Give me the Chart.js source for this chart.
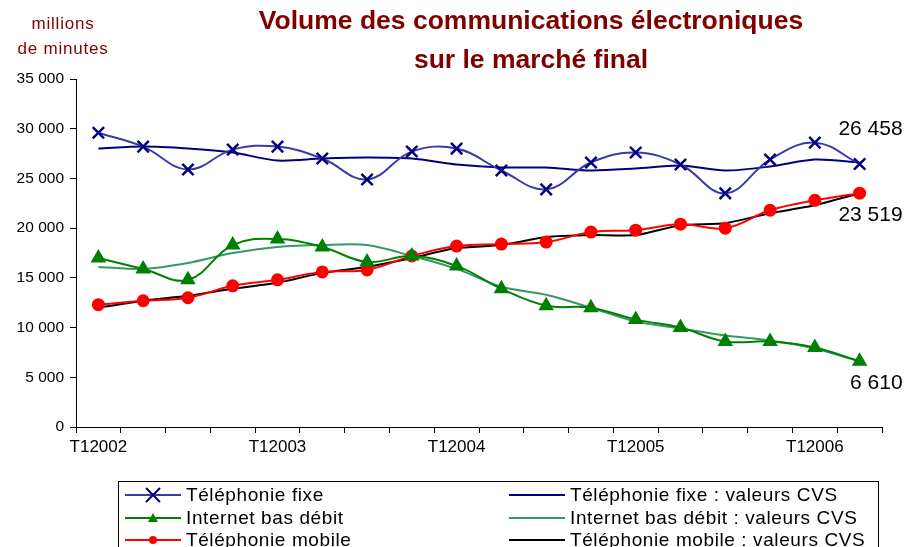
<!DOCTYPE html>
<html>
<head>
<meta charset="utf-8">
<script src="https://cdn.jsdelivr.net/npm/chart.js@4"></script>
<style>
  html, body { margin: 0; padding: 0; background: #fff; overflow: hidden; }
  #wrap { position: relative; width: 906px; height: 547px; font-family: "Liberation Sans", Arial, sans-serif; }
  #chart { position: absolute; left: 0; top: 0; }
  .title { position: absolute; left: 0; width: 1062px; text-align: center; color: #800000;
           font-weight: bold; font-size: 26.5px; white-space: nowrap; }
  .unit { position: absolute; left: 0; width: 126px; text-align: center; color: #800000;
          font-size: 17px; letter-spacing: 0.8px; }
  #legend { position: absolute; left: 118px; top: 481px; width: 761px; height: 80px;
            border: 1px solid #000; box-sizing: border-box; }
  .item { position: absolute; display: flex; align-items: center; height: 22px;
          font-size: 19px; letter-spacing: 0.6px; white-space: nowrap; }
  .item svg { margin-right: 5px; }
</style>
</head>
<body>
<div id="wrap">
  <canvas id="chart" width="906" height="547"></canvas>
  <div class="title" style="top:5px">Volume des communications électroniques</div>
  <div class="title" style="top:44px">sur le marché final</div>
  <div class="unit" style="top:14px">millions</div>
  <div class="unit" style="top:39px">de minutes</div>
  <div id="legend"></div>
</div>
<script>
// Quarters T1 2002 -> T2 2006
const quarters = [
  "T12002", "T22002", "T32002", "T42002",
  "T12003", "T22003", "T32003", "T42003",
  "T12004", "T22004", "T32004", "T42004",
  "T12005", "T22005", "T32005", "T42005",
  "T12006", "T22006",
];

// millions de minutes
const fixe = [29600, 28200, 25900, 27900, 28200, 27000, 24900, 27700, 28000,
  25800, 23900, 26600, 27600, 26400, 23500, 26900, 28600, 26458];
const fixeCVS = [28000, 28200, 28000, 27600, 26800, 27000, 27100, 27000, 26400,
  26100, 26100, 25800, 26000, 26300, 25800, 26200, 26900, 26600];
const internet = [17000, 15900, 14800, 18300, 18900, 18100, 16600, 17200, 16200,
  13900, 12200, 12000, 10800, 10000, 8600, 8600, 8000, 6610];
const internetCVS = [16100, 15900, 16500, 17500, 18100, 18300, 18300, 17200, 15900,
  14100, 13300, 12000, 10600, 9900, 9200, 8700, 7900, 6600];
const mobile = [12300, 12700, 13000, 14200, 14800, 15600, 15800, 17200, 18200,
  18400, 18600, 19600, 19800, 20400, 20000, 21800, 22800, 23519];
const mobileCVS = [12000, 12700, 13200, 13900, 14500, 15500, 16100, 17000, 18000,
  18300, 19100, 19300, 19300, 20300, 20500, 21500, 22300, 23500];

const yTicks = [0, 5000, 10000, 15000, 20000, 25000, 30000, 35000];

function fmt(v) {
  return String(v).replace(/\B(?=(\d{3})+(?!\d))/g, " ");
}

const datasets = [
  { label: "Téléphonie fixe", data: fixe, borderColor: "#3b3ba8", pointStyle: "crossRot",
    pointRadius: 8, pointBorderColor: "#000080", pointBorderWidth: 2.5, tension: 0.4, endLabel: { dy: -35 } },
  { label: "Internet bas débit", data: internet, borderColor: "#008000", pointStyle: "triangle",
    pointRadius: 7, pointBackgroundColor: "#008000", pointBorderColor: "#008000", tension: 0.4, endLabel: { dy: 22 } },
  { label: "Téléphonie mobile", data: mobile, borderColor: "#ff0000", pointStyle: "circle",
    pointRadius: 5.5, pointBackgroundColor: "#ff0000", pointBorderColor: "#ff0000", tension: 0.4, endLabel: { dy: 22 } },
  { label: "Téléphonie fixe : valeurs CVS", data: fixeCVS, borderColor: "#000080", pointRadius: 0, tension: 0.3 },
  { label: "Internet bas débit : valeurs CVS", data: internetCVS, borderColor: "#339966", pointRadius: 0, tension: 0.3 },
  { label: "Téléphonie mobile : valeurs CVS", data: mobileCVS, borderColor: "#000000", pointRadius: 0, tension: 0.2 },
];
datasets.forEach((d) => { d.borderWidth = 2; d.fill = false; });

// value labels at the last quarter
const endLabels = {
  id: "endLabels",
  afterDatasetsDraw(chart) {
    const ctx = chart.ctx;
    ctx.save();
    ctx.font = "21px 'Liberation Sans', Arial, sans-serif";
    ctx.fillStyle = "#000";
    ctx.textAlign = "right";
    ctx.textBaseline = "middle";
    chart.data.datasets.forEach((ds, i) => {
      if (!ds.endLabel) return;
      const pts = chart.getDatasetMeta(i).data;
      const p = pts[pts.length - 1];
      ctx.fillText(fmt(ds.data[ds.data.length - 1]), p.x + 43, p.y + ds.endLabel.dy);
    });
    ctx.restore();
  },
};

new Chart(document.getElementById("chart"), {
  type: "line",
  data: { labels: quarters, datasets: datasets },
  options: {
    responsive: false,
    animation: false,
    layout: { padding: { top: 79, right: 24, bottom: 80, left: 0 } },
    scales: {
      x: {
        offset: true,
        grid: { offset: true, drawOnChartArea: false, tickLength: 6, color: "#000" },
        border: { color: "#000", width: 1 },
        ticks: {
          autoSkip: false, maxRotation: 0, padding: 4, color: "#000",
          font: { size: 17, family: "'Liberation Sans', Arial, sans-serif" },
          callback: (v, i) => (i % 4 === 0 ? quarters[i] : ""),
        },
        afterFit: (s) => { s.height = 40; },
      },
      y: {
        min: 0, max: 35000,
        afterBuildTicks: (s) => { s.ticks = yTicks.map((v) => ({ value: v })); },
        grid: { drawOnChartArea: false, tickLength: 6, color: "#000" },
        border: { color: "#000", width: 1 },
        ticks: {
          padding: 6, color: "#000",
          font: { size: 15.5, family: "'Liberation Sans', Arial, sans-serif" },
          callback: (v) => fmt(v),
        },
        afterFit: (s) => { s.width = 76; },
      },
    },
    plugins: {
      legend: { display: false },
      tooltip: { enabled: false },
    },
  },
  plugins: [endLabels],
});

// Legend: two columns, three rows
const legend = document.getElementById("legend");
datasets.forEach((d, i) => {
  const col = i < 3 ? 0 : 1;
  const row = i % 3;
  const item = document.createElement("div");
  item.className = "item";
  item.style.left = (col === 0 ? 6 : 390) + "px";
  item.style.top = (row * 22.5 + 2) + "px";
  let marker = "";
  if (d.pointStyle === "crossRot") {
    marker = '<path d="M21 5 L35 19 M35 5 L21 19" stroke="' + d.pointBorderColor + '" stroke-width="2"/>';
  } else if (d.pointStyle === "triangle") {
    marker = '<path d="M28 7 L33 16 L23 16 Z" fill="' + d.pointBackgroundColor + '"/>';
  } else if (d.pointStyle === "circle") {
    marker = '<circle cx="28" cy="12" r="4" fill="' + d.pointBackgroundColor + '"/>';
  }
  item.innerHTML =
    '<svg width="56" height="24"><line x1="0" y1="12" x2="56" y2="12" stroke="' + d.borderColor +
    '" stroke-width="2"/>' + marker + "</svg><span>" + d.label + "</span>";
  legend.appendChild(item);
});
</script>
</body>
</html>
